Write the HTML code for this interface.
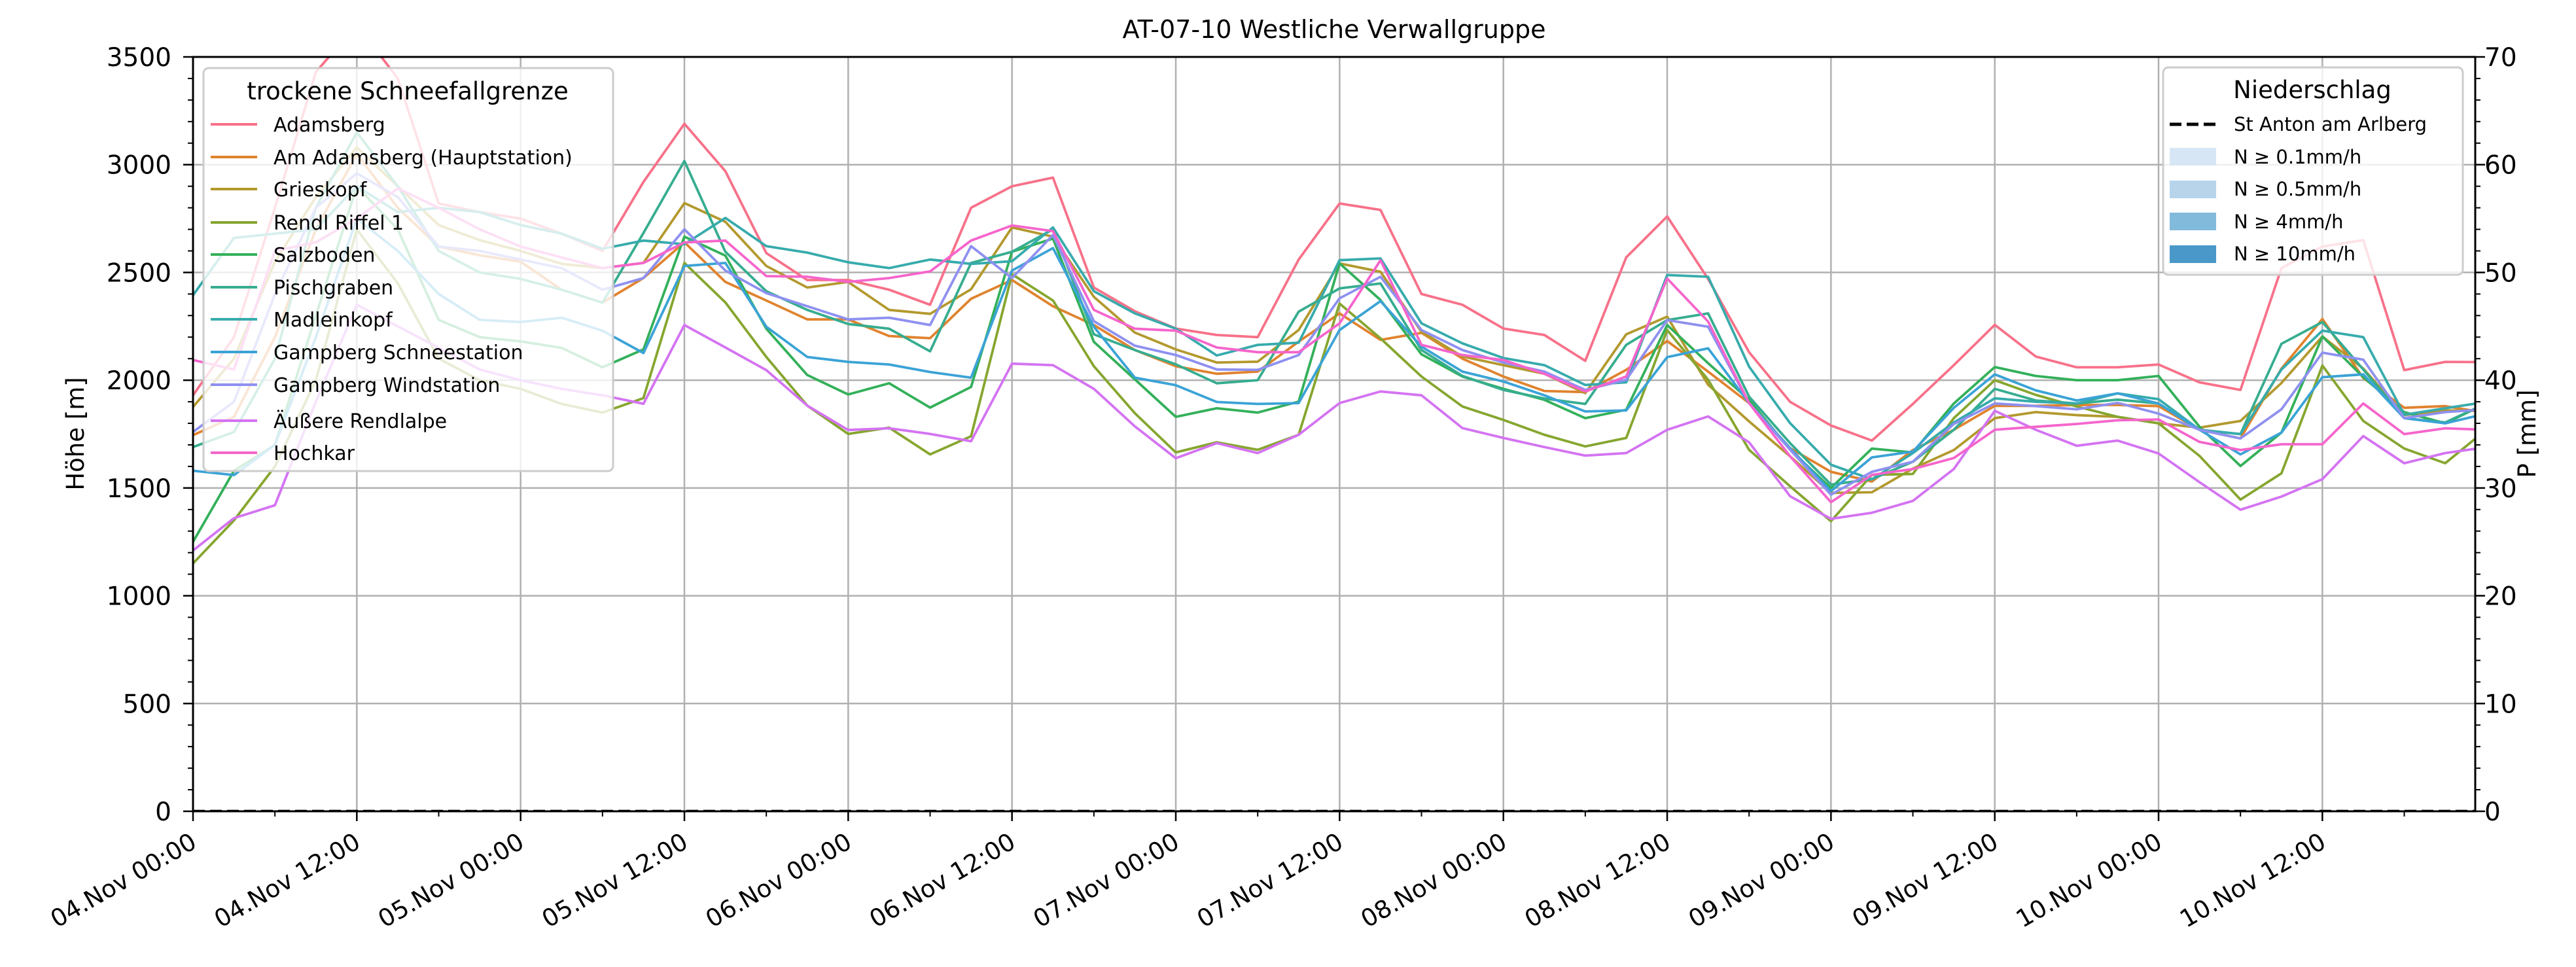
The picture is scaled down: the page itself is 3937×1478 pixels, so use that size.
<!DOCTYPE html>
<html><head><meta charset="utf-8">
<style>
html,body{margin:0;padding:0;background:#fff;}
svg{display:block;font-family:"DejaVu Sans","Liberation Sans",sans-serif;}
</style></head>
<body>
<svg id="chart" width="3937" height="1478" viewBox="0 0 3937 1478" xmlns="http://www.w3.org/2000/svg">
<defs><clipPath id="plotclip"><rect x="295" y="87" width="3488" height="1153"/></clipPath></defs>
<rect x="0" y="0" width="3937" height="1478" fill="#fff"/>
<text x="2039" y="58" font-size="38" text-anchor="middle">AT-07-10 Westliche Verwallgruppe</text>
<g id="grid"></g>
<g id="series" clip-path="url(#plotclip)"></g>
<g id="axes"></g>
<g>
<rect x="311" y="104" width="626" height="616" rx="8" fill="#fff" fill-opacity="0.8" stroke="#cccccc" stroke-width="3"/>
<text x="623" y="152" font-size="37" text-anchor="middle">trockene Schneefallgrenze</text>
<g id="leg1"></g>
</g>
<g>
<rect x="3306" y="103" width="458" height="317" rx="8" fill="#fff" fill-opacity="0.8" stroke="#cccccc" stroke-width="3"/>
<text x="3534" y="150" font-size="37" text-anchor="middle">Niederschlag</text>
<line x1="3316" y1="190" x2="3387" y2="190" stroke="#000" stroke-width="5" stroke-dasharray="18,8"/>
<text x="3414" y="200" font-size="29">St Anton am Arlberg</text>
<rect x="3316" y="226" width="71" height="27" fill="#d6e6f4"/>
<text x="3414" y="250" font-size="29">N ≥ 0.1mm/h</text>
<rect x="3316" y="276" width="71" height="27" fill="#b7d4ea"/>
<text x="3414" y="299" font-size="29">N ≥ 0.5mm/h</text>
<rect x="3316" y="325" width="71" height="27" fill="#82badb"/>
<text x="3414" y="349" font-size="29">N ≥ 4mm/h</text>
<rect x="3316" y="375" width="71" height="27" fill="#4a98c9"/>
<text x="3414" y="398" font-size="29">N ≥ 10mm/h</text>
</g>
<text transform="translate(128,663) rotate(-90)" font-size="37" text-anchor="middle">Höhe [m]</text>
<text transform="translate(3875,663) rotate(-90)" font-size="37" text-anchor="middle">P [mm]</text>
</svg>
<script>
const hours = [0,3,6,9,12,15,18,21,24,27,30,33,36,39,42,45,48,51,54,57,60,63,66,69,72,75,78,81,84,87,90,93,96,99,102,105,108,111,114,117,120,123,126,129,132,135,138,141,144,147,150,153,156,159,162,165,168];
const seriesNames = ["Adamsberg","Am Adamsberg (Hauptstation)","Grieskopf","Rendl Riffel 1","Salzboden","Pischgraben","Madleinkopf","Gampberg Schneestation","Gampberg Windstation","Äußere Rendlalpe","Hochkar"];
const seriesColors = ["#f77189","#e0832f","#b3992e","#86a62f","#33b05a","#36ad8f","#37abac","#3ba3d6","#8e90f0","#d473f2","#f565cc"];
const adamsberg = [1930,2200,2800,3430,3650,3400,2820,2780,2750,2680,2600,2920,3190,2970,2590,2465,2465,2420,2350,2800,2900,2940,2430,2320,2240,2210,2200,2560,2820,2790,2400,2350,2240,2210,2090,2570,2760,2470,2130,1900,1790,1720,1890,2070,2257,2110,2060,2060,2073,1990,1955,2520,2620,2650,2047,2085,2084];
const amAdamsberg = [1745,1830,2200,2700,3050,2800,2620,2580,2550,2420,2360,2474,2640,2456,2370,2282,2282,2205,2195,2378,2465,2343,2256,2140,2065,2030,2040,2179,2310,2187,2220,2100,2017,1950,1945,2048,2182,2040,1894,1685,1575,1530,1676,1770,1881,1881,1885,1885,1880,1770,1730,2054,2284,2010,1872,1880,1849];
const grieskopf = [1876,2100,2550,2850,3080,2900,2720,2650,2600,2540,2520,2544,2822,2735,2530,2430,2456,2326,2308,2422,2709,2666,2387,2221,2143,2082,2086,2233,2542,2503,2225,2110,2070,2030,1940,2213,2295,1979,1809,1647,1477,1480,1590,1676,1824,1852,1838,1830,1800,1780,1811,1987,2203,2054,1838,1860,1858];
const rendlRiffel = [1150,1350,1600,2000,2700,2450,2100,2000,1960,1890,1850,1917,2544,2361,2108,1882,1751,1780,1656,1740,2492,2370,2065,1847,1665,1712,1677,1747,2356,2194,2017,1878,1816,1747,1693,1732,2233,2002,1677,1508,1346,1561,1565,1824,2000,1932,1878,1830,1800,1649,1446,1568,2068,1811,1683,1615,1770];
const salzboden = [1250,1580,1700,2300,2900,2700,2280,2200,2180,2150,2060,2143,2666,2578,2239,2024,1934,1986,1873,1969,2596,2657,2178,2004,1830,1870,1850,1901,2542,2372,2120,2017,1960,1909,1824,1863,2256,2079,1909,1678,1500,1683,1665,1892,2061,2020,2000,2000,2020,1784,1602,1757,2203,2014,1852,1800,1892];
const pischgraben = [1690,1760,2100,2800,3150,2900,2600,2500,2470,2420,2360,2683,3017,2596,2413,2326,2261,2239,2134,2544,2596,2700,2213,2140,2074,1986,2000,2318,2426,2449,2140,2020,1955,1915,1890,2164,2279,2310,1924,1708,1516,1541,1622,1770,1960,1906,1892,1910,1892,1770,1750,2169,2270,2050,1824,1804,1892];
const madleinkopf = [2394,2660,2680,2700,2900,2780,2800,2780,2720,2680,2610,2648,2631,2753,2622,2592,2547,2520,2560,2540,2552,2709,2413,2310,2239,2115,2164,2174,2557,2565,2264,2171,2103,2070,1978,1990,2488,2480,2063,1801,1608,1540,1662,1804,1916,1900,1892,1939,1912,1770,1750,2050,2230,2200,1840,1870,1899];
const gampbergSchnee = [1580,1560,1700,2200,2750,2600,2400,2280,2270,2290,2230,2126,2530,2544,2248,2108,2085,2073,2038,2012,2509,2613,2248,2012,1977,1899,1890,1894,2233,2367,2156,2040,1994,1930,1855,1860,2107,2148,1894,1685,1485,1642,1669,1872,2027,1953,1906,1939,1892,1770,1656,1757,2014,2027,1824,1800,1845];
const gampbergWind = [1760,1900,2400,2800,2960,2850,2620,2600,2560,2520,2420,2474,2700,2509,2404,2343,2282,2290,2256,2622,2474,2674,2274,2160,2117,2050,2048,2117,2380,2480,2233,2140,2082,2040,1955,2002,2279,2248,1894,1678,1469,1575,1622,1797,1892,1880,1865,1895,1845,1770,1730,1865,2128,2095,1824,1852,1865];
const aeussereRendlalpe = [1210,1360,1420,1900,2350,2250,2150,2050,2000,1960,1930,1891,2256,2152,2047,1882,1769,1777,1751,1717,2077,2070,1960,1786,1638,1708,1662,1747,1894,1948,1930,1778,1732,1690,1650,1662,1770,1832,1712,1462,1357,1385,1440,1588,1858,1770,1696,1720,1660,1527,1399,1460,1541,1741,1615,1662,1689];
const hochkar = [2094,2050,2600,2640,2750,2890,2800,2700,2620,2570,2520,2544,2639,2648,2483,2480,2456,2474,2505,2648,2718,2692,2326,2239,2230,2152,2130,2130,2264,2557,2164,2117,2094,2030,1948,2017,2472,2272,1894,1647,1434,1561,1588,1639,1770,1784,1797,1814,1818,1714,1676,1703,1703,1892,1750,1777,1770];
const precipStAnton = [0,0,0,0,0,0,0,0,0,0,0,0,0,0,0,0,0,0,0,0,0,0,0,0,0,0,0,0,0,0,0,0,0,0,0,0,0,0,0,0,0,0,0,0,0,0,0,0,0,0,0,0,0,0,0,0,0];
const seriesValues = [adamsberg,amAdamsberg,grieskopf,rendlRiffel,salzboden,pischgraben,madleinkopf,gampbergSchnee,gampbergWind,aeussereRendlalpe,hochkar];
const leftTicks = [0,500,1000,1500,2000,2500,3000,3500];
const rightTicks = [0,10,20,30,40,50,60,70];
const xTickHours = [0,12,24,36,48,60,72,84,96,108,120,132,144,156];
const xTickLabels = ["04.Nov 00:00","04.Nov 12:00","05.Nov 00:00","05.Nov 12:00","06.Nov 00:00","06.Nov 12:00","07.Nov 00:00","07.Nov 12:00","08.Nov 00:00","08.Nov 12:00","09.Nov 00:00","09.Nov 12:00","10.Nov 00:00","10.Nov 12:00"];

const NS = "http://www.w3.org/2000/svg";
const X0 = 295, X1 = 3783, Y0 = 1240, Y1 = 87;
const TMAX = 167.2;
function xs(t){ return X0 + t * (X1 - X0) / TMAX; }
function ys(v){ return Y0 - v * (Y0 - Y1) / 3500; }
function yp(p){ return Y0 - p * (Y0 - Y1) / 70; }
function mk(tag, attrs, parent){
  const e = document.createElementNS(NS, tag);
  for (const k in attrs) e.setAttribute(k, attrs[k]);
  parent.appendChild(e);
  return e;
}
const grid = document.getElementById('grid');
const axes = document.getElementById('axes');
const seriesG = document.getElementById('series');
const leg1 = document.getElementById('leg1');

// grid
xTickHours.forEach(function(h){
  const l = mk('line', {x1: xs(h), x2: xs(h), y1: Y1, y2: Y0, stroke: '#b0b0b0', 'stroke-width': 2.5}, grid);
  
  
});
leftTicks.forEach(function(v){
  const l = mk('line', {x1: X0, x2: X1, y1: ys(v), y2: ys(v), stroke: '#b0b0b0', 'stroke-width': 2.5}, grid);
  
  
});

// series
seriesValues.forEach(function(vals, i){
  let d = '';
  vals.forEach(function(v, j){ d += (j ? 'L' : 'M') + xs(hours[j]).toFixed(1) + ',' + ys(v).toFixed(1); });
  const p = mk('path', {d: d, fill: 'none', stroke: seriesColors[i], 'stroke-width': 3.8, 'stroke-linejoin': 'round'}, seriesG);
  
  
});
// precipitation line
(function(){
  let d = '';
  precipStAnton.forEach(function(v, j){ d += (j ? 'L' : 'M') + xs(hours[j]).toFixed(1) + ',' + yp(v).toFixed(1); });
  const p = mk('path', {d: d, fill: 'none', stroke: '#000', 'stroke-width': 4.5, 'stroke-dasharray': '18,8'}, seriesG);
  
  
})();

// spines
const frame = mk('rect', {x: X0, y: Y1, width: X1 - X0, height: Y0 - Y1, fill: 'none', stroke: '#000', 'stroke-width': 3}, axes);



// left ticks
for (let v = 0; v <= 3500; v += 100) {
  const major = v % 500 === 0;
  mk('line', {x1: X0, x2: X0 - (major ? 15 : 8), y1: ys(v), y2: ys(v), stroke: '#000', 'stroke-width': major ? 2.5 : 2}, axes);
}
leftTicks.forEach(function(v){
  const t = mk('text', {x: 262, y: ys(v) + 14, 'font-size': 39, 'text-anchor': 'end'}, axes);
  t.textContent = v;
  
  
});
// right ticks
for (let p = 0; p <= 70; p += 2) {
  const major = p % 10 === 0;
  mk('line', {x1: X1, x2: X1 + (major ? 15 : 8), y1: yp(p), y2: yp(p), stroke: '#000', 'stroke-width': major ? 2.5 : 2}, axes);
}
rightTicks.forEach(function(p){
  const t = mk('text', {x: 3797, y: yp(p) + 14, 'font-size': 39, 'text-anchor': 'start'}, axes);
  t.textContent = p;
  
  
});
// x ticks
for (let h = 0; h <= 166; h += 6) {
  const major = h % 12 === 0;
  mk('line', {x1: xs(h), x2: xs(h), y1: Y0, y2: Y0 + (major ? 15 : 8), stroke: '#000', 'stroke-width': major ? 2.5 : 2}, axes);
}
xTickHours.forEach(function(h, i){
  const t = mk('text', {transform: 'translate(' + (xs(h) - 6) + ',1270) rotate(-30)', 'font-size': 37, 'text-anchor': 'end', dy: '0.75em'}, axes);
  t.textContent = xTickLabels[i];
  
  
});

// legend entries
const legY = [190,240,289,340,389,439,488,538,588,643,692];
seriesNames.forEach(function(n, i){
  const l = mk('line', {x1: 322, x2: 393, y1: legY[i], y2: legY[i], stroke: seriesColors[i], 'stroke-width': 4}, leg1);
  
  
  const t = mk('text', {x: 418, y: legY[i] + 11, 'font-size': 30}, leg1);
  t.textContent = n;
  
  
});
</script>
</body></html>
